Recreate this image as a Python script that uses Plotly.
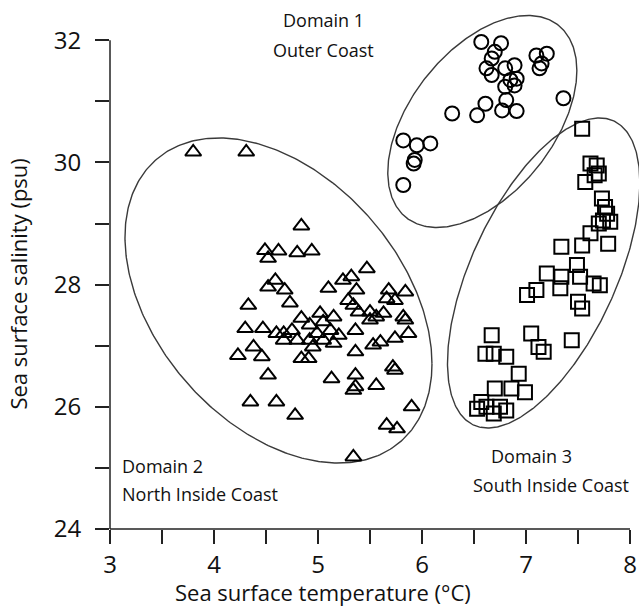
import numpy as np
import plotly.graph_objects as go

# ---------------- data ----------------
# Domain 1 - Outer Coast (circles)
d1_temp = [6.57, 6.76, 6.70, 6.67, 6.62, 6.67, 6.80, 6.89, 6.85, 6.89, 6.91, 6.80,
           6.81, 6.61, 6.53, 6.29, 6.77, 6.91, 7.10, 7.20, 7.15, 7.13, 7.36,
           5.82, 5.95, 6.08, 5.93, 5.92, 5.82]
d1_sal = [31.97, 31.95, 31.81, 31.70, 31.54, 31.43, 31.54, 31.59, 31.35, 31.26, 31.37, 31.24,
          31.02, 30.96, 30.77, 30.80, 30.85, 30.84, 31.75, 31.78, 31.62, 31.54, 31.05,
          30.36, 30.28, 30.31, 30.04, 29.98, 29.63]

# Domain 2 - North Inside Coast (triangles)
d2_temp = [3.80, 4.31, 4.84, 4.49, 4.62, 4.52, 4.80, 4.94, 4.59, 4.52, 4.68, 4.73,
           4.33, 4.30, 4.47, 4.60, 4.67, 4.23, 4.38, 4.46, 4.52, 4.35, 4.60, 4.78,
           5.34, 5.13, 5.36, 5.36, 5.34, 5.56, 5.72, 5.74, 5.90, 5.66, 5.76, 4.84,
           4.91, 5.36, 5.53, 5.60, 5.74, 5.87, 5.36, 5.84, 5.82, 5.47, 5.24, 5.32,
           5.10, 5.37, 5.29, 5.34, 5.68, 5.84, 5.74, 5.66, 5.39, 5.50, 5.56, 5.63,
           5.50, 4.84, 5.02, 5.15, 4.92, 5.05, 5.12, 4.99, 4.75, 4.80, 4.92, 5.05,
           5.15, 4.67, 4.95, 5.20]
d2_sal = [30.17, 30.17, 28.96, 28.56, 28.55, 28.43, 28.52, 28.55, 28.07, 27.96, 27.91, 27.70,
          27.66, 27.28, 27.28, 27.20, 27.20, 26.84, 26.98, 26.82, 26.52, 26.08, 26.08, 25.86,
          25.18, 26.46, 26.52, 26.33, 26.27, 26.35, 26.65, 26.60, 26.00, 25.70, 25.64, 26.79,
          26.79, 26.90, 27.01, 27.06, 27.12, 27.20, 27.25, 27.42, 27.47, 28.26, 28.07, 28.13,
          27.94, 27.91, 27.74, 27.66, 27.91, 27.88, 27.74, 27.77, 27.55, 27.55, 27.47, 27.53,
          27.42, 27.45, 27.53, 27.47, 27.34, 27.39, 27.25, 27.20, 27.25, 27.09, 27.09, 27.09,
          27.04, 27.09, 26.98, 27.17]

# Domain 3 - South Inside Coast (squares)
d3_temp = [7.54, 7.62, 7.68, 7.70, 7.57, 7.66, 7.73, 7.76, 7.78, 7.74, 7.81, 7.70,
           7.62, 7.79, 7.54, 7.34, 7.49, 7.20, 7.01, 7.10, 7.33, 7.34, 7.52, 7.65,
           7.71, 7.54, 7.50, 6.67, 7.05, 7.12, 7.17, 7.44, 6.61, 6.69, 6.81, 6.93,
           6.99, 6.70, 6.86, 6.57, 6.53, 6.62, 6.75, 6.81, 6.69]
d3_sal = [30.55, 29.98, 29.95, 29.82, 29.68, 29.79, 29.41, 29.27, 29.16, 29.05, 29.03, 29.00,
          28.84, 28.67, 28.64, 28.62, 28.32, 28.18, 27.83, 27.91, 27.94, 28.13, 28.13, 28.02,
          27.99, 27.61, 27.72, 27.17, 27.20, 26.98, 26.90, 27.09, 26.87, 26.87, 26.82, 26.54,
          26.24, 26.30, 26.30, 26.08, 25.97, 26.00, 26.00, 25.94, 25.89]

# Domain ellipses: centre, half-width (temp), half-height (salinity), tilt correlation
ell_cx = [6.58, 4.62, 7.17]
ell_cy = [30.67, 27.74, 28.19]
ell_hw = [0.909, 1.476, 0.925]
ell_hh = [1.735, 2.66, 2.537]
ell_rho = [0.48, -0.39, 0.58]

x_ticks = [3, 4, 5, 6, 7, 8]
y_ticks = [24, 26, 28, 30, 32]

FONT = "Open Sans"
INK = "#111111"

fig = go.Figure()

t = np.linspace(0, 2 * np.pi, 400)
for cx, cy, hw, hh, rho in zip(ell_cx, ell_cy, ell_hw, ell_hh, ell_rho):
    ex = cx + hw * np.cos(t)
    ey = cy + hh * (rho * np.cos(t) + np.sqrt(1 - rho ** 2) * np.sin(t))
    fig.add_trace(go.Scatter(x=ex, y=ey, mode="lines",
                             line=dict(color="#3a3a3a", width=1.4),
                             hoverinfo="skip", showlegend=False))

mk = dict(color="black", line=dict(width=2, color="black"))
fig.add_trace(go.Scatter(x=d1_temp, y=d1_sal, mode="markers", showlegend=False,
                         marker=dict(symbol="circle-open", size=14, **mk)))
fig.add_trace(go.Scatter(x=d2_temp, y=d2_sal, mode="markers", showlegend=False,
                         marker=dict(symbol="triangle-up-open", size=14, **mk)))
fig.add_trace(go.Scatter(x=d3_temp, y=d3_sal, mode="markers", showlegend=False,
                         marker=dict(symbol="square-open", size=14, **mk)))

W, H = 639, 609
ml, mr, mt, mb = 110, 0, 10, 80
px_per_x = 104.0
px_per_y = 61.1
x_max = 3 + (W - ml - mr) / px_per_x
y_max = 24 + (H - mt - mb) / px_per_y

axis_common = dict(showline=False, showgrid=False, zeroline=False,
                   ticks="outside", ticklen=14, tickwidth=1.5, tickcolor="#222",
                   tickfont=dict(family=FONT, size=24, color=INK))

fig.update_layout(
    width=W, height=H,
    margin=dict(l=ml, r=mr, t=mt, b=mb),
    paper_bgcolor="white", plot_bgcolor="white",
    xaxis=dict(range=[3, x_max], tickvals=x_ticks,
               minor=dict(dtick=0.5, tick0=3, ticks="outside", ticklen=14,
                          tickwidth=1.5, tickcolor="#222"),
               **axis_common),
    yaxis=dict(range=[24, y_max], tickvals=y_ticks,
               minor=dict(dtick=1, tick0=24, ticks="outside", ticklen=14,
                          tickwidth=1.5, tickcolor="#222"),
               ticklabelstandoff=9,
               **axis_common),
    shapes=[
        dict(type="line", xref="x", yref="paper", x0=3, x1=8, y0=0, y1=0,
             line=dict(color="#222", width=1.5)),
        dict(type="line", xref="paper", yref="y", x0=0, x1=0, y0=24, y1=32,
             line=dict(color="#222", width=1.5)),
    ],
)

# axis titles
title_font = dict(family=FONT, size=22, color=INK)
fig.add_annotation(text="Sea surface temperature (°C)", xref="x", yref="paper",
                   x=5.05, y=0, yshift=-63, xanchor="center", yanchor="middle",
                   showarrow=False, font=title_font)
fig.add_annotation(text="Sea surface salinity (psu)", xref="paper", yref="y",
                   x=0, y=28.0, xshift=-92, xanchor="center", yanchor="middle",
                   textangle=-90, showarrow=False, font=title_font)

ann_font = dict(family=FONT, size=18, color=INK)
notes = [
    ("Domain 1", 5.05, 32.33, "center"),
    ("Outer Coast", 5.05, 31.84, "center"),
    ("Domain 2", 3.10, 25.03, "left"),
    ("North Inside Coast", 3.10, 24.57, "left"),
    ("Domain 3", 7.05, 25.20, "center"),
    ("South Inside Coast", 7.245, 24.72, "center"),
]
for txt, x, y, al in notes:
    fig.add_annotation(x=x, y=y, text=txt, showarrow=False, xanchor=al,
                       yanchor="middle", font=ann_font)

fig.write_html("out.html")
